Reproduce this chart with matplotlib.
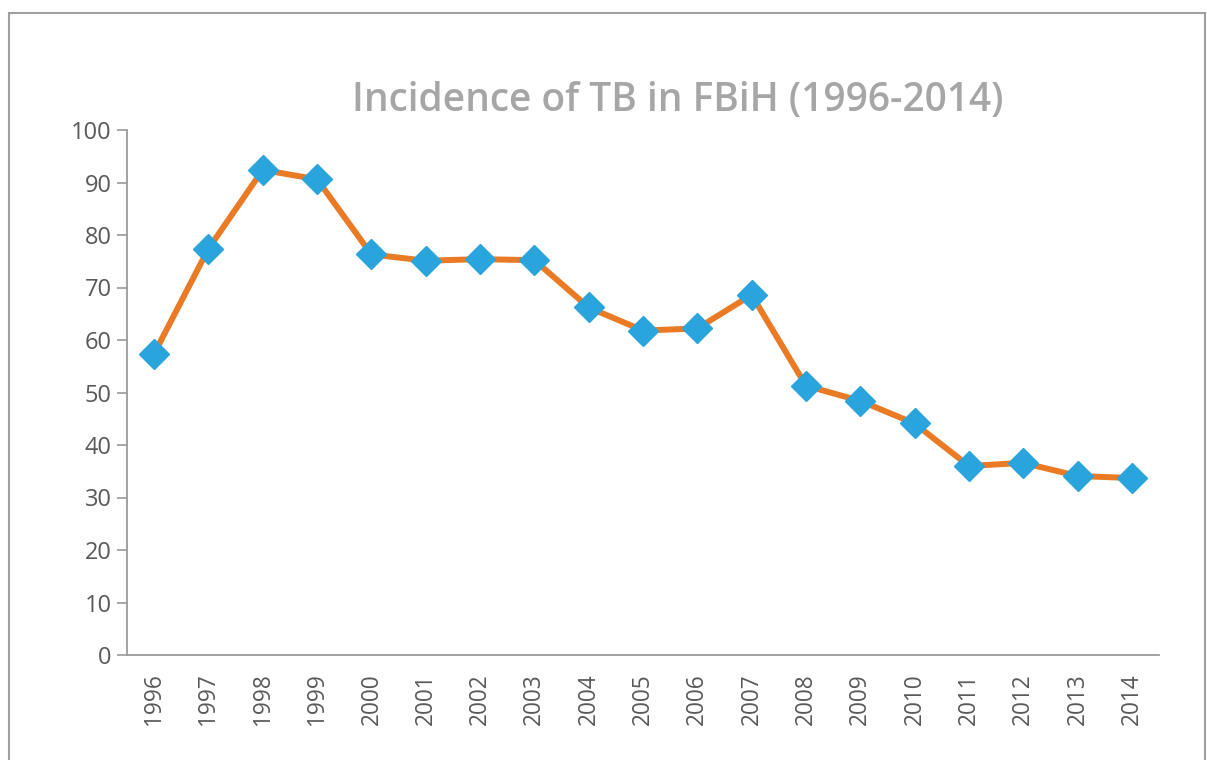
import matplotlib
matplotlib.use("Agg")
import matplotlib.pyplot as plt
from matplotlib.patches import Rectangle

# data
years = ["1996", "1997", "1998", "1999", "2000", "2001", "2002", "2003", "2004", "2005",
         "2006", "2007", "2008", "2009", "2010", "2011", "2012", "2013", "2014"]
incidence = [57.4, 77.4, 92.4, 90.6, 76.3, 75.1, 75.4, 75.2, 66.2, 61.8,
             62.2, 68.6, 51.3, 48.4, 44.1, 36.0, 36.6, 34.1, 33.7]
yticks = [0, 10, 20, 30, 40, 50, 60, 70, 80, 90, 100]
title = "Incidence of TB in FBiH (1996-2014)"

plt.rcParams['font.family'] = ['Open Sans', 'DejaVu Sans']

fig = plt.figure(figsize=(12.07, 7.60), dpi=100)
W, H = 1207, 760

# outer frame of the figure box (cut off at the bottom)
fig.patches.append(Rectangle((9 / W, -0.05), (1205 - 9) / W, 1 - 13 / H + 0.05,
                             transform=fig.transFigure, fill=False,
                             edgecolor="#A0A0A0", linewidth=1.5))

ax = fig.add_axes([127 / W, 1 - 655 / H, (1159 - 127) / W, (655 - 130) / H])

x = list(range(len(years)))
ax.plot(x, incidence, color="#EA7B24", linewidth=4.3, zorder=2)
ax.plot(x, incidence, linestyle="none", marker="D", markersize=15,
        markerfacecolor="#29A4DC", markeredgecolor="#29A4DC", zorder=3)

ax.set_xlim(-0.5, len(years) - 0.5)
ax.set_ylim(0, 100)
ax.set_yticks(yticks)
ax.set_yticklabels([str(v) for v in yticks])
ax.set_xticks(x)
ax.set_xticklabels(years, rotation=90)

for s in ["top", "right"]:
    ax.spines[s].set_visible(False)
for s in ["left", "bottom"]:
    ax.spines[s].set_color("#9A9A9A")
    ax.spines[s].set_linewidth(1.3)

ax.tick_params(axis="y", length=7, width=1.2, color="#9A9A9A", pad=4,
               labelsize=17, labelcolor="#595959")
ax.tick_params(axis="x", length=0, pad=13, labelsize=16.3, labelcolor="#595959")

fig.text(678 / W, 1 - 101 / H, title, ha="center", va="center",
         fontsize=28, fontweight="semibold", color="#A6A6A6")

fig.savefig("out.png", dpi=100)
